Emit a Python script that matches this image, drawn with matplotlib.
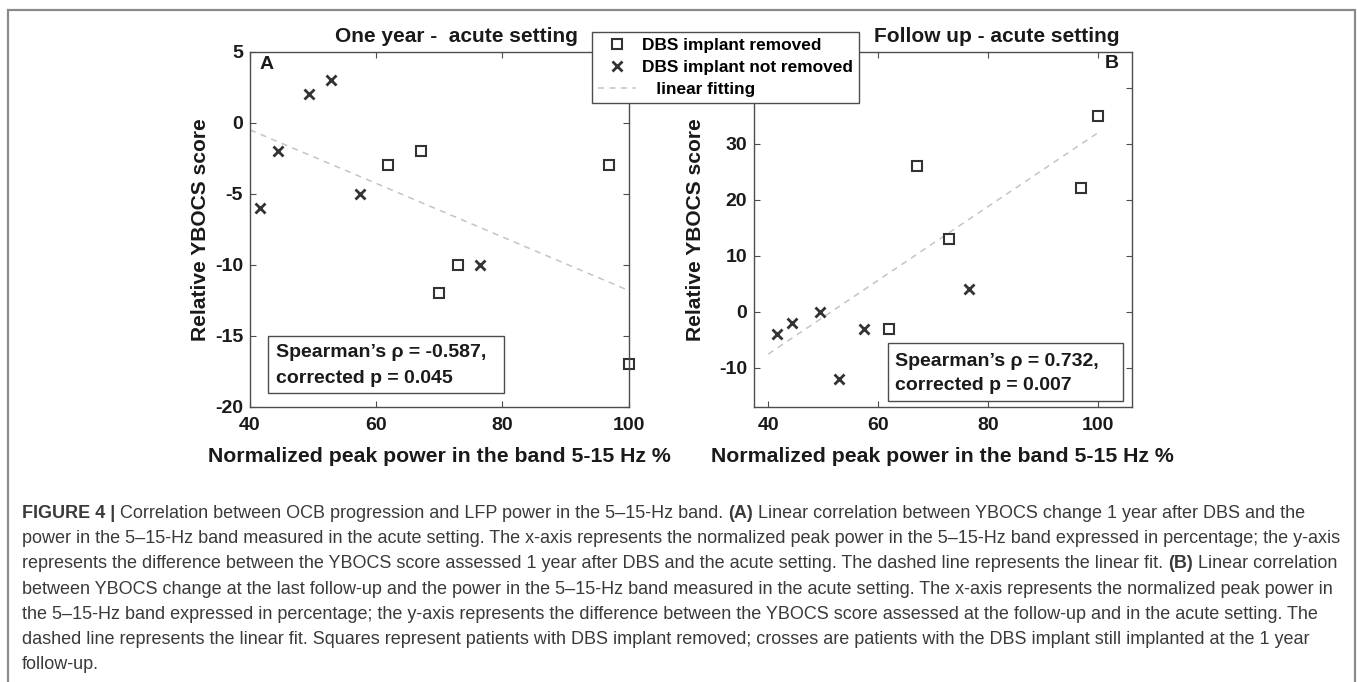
import matplotlib
matplotlib.use("Agg")
import matplotlib.pyplot as plt
from matplotlib.patches import Rectangle

plt.rcParams['font.family'] = ['Liberation Sans', 'DejaVu Sans']
plt.rcParams['axes.unicode_minus'] = False

# data
removed_x_a = [61.9, 67.1, 69.9, 72.9, 96.9, 100]
removed_y_a = [-3, -2, -12, -10, -3, -17]
kept_x_a = [41.6, 44.4, 49.4, 52.9, 57.5, 76.5]
kept_y_a = [-6, -2, 2, 3, -5, -10]

removed_x_b = [61.9, 67.1, 72.9, 96.9, 100]
removed_y_b = [-3, 26, 13, 22, 35]
kept_x_b = [41.6, 44.4, 49.4, 52.9, 57.5, 76.5]
kept_y_b = [-4, -2, 0, -12, -3, 4]

# fitted lines (end points as drawn in the figure)
fit_x = [40, 100]
fit_y_a = [-0.5, -11.8]
fit_y_b = [-7.55, 31.9]

stats_a = ["Spearman\u2019s \u03c1 = -0.587,", "corrected p = 0.045"]
stats_b = ["Spearman\u2019s \u03c1 = 0.732,", "corrected p = 0.007"]

xticks = [40, 60, 80, 100]
yticks_a = [-20, -15, -10, -5, 0, 5]
yticks_b = [-10, 0, 10, 20, 30, 40]
# the 40 label of panel B sits under the legend box
yticklabels_b = ["-10", "0", "10", "20", "30", ""]

xlabel = "Normalized peak power in the band 5-15 Hz %"
ylabel = "Relative YBOCS score"

caption = [
    [("FIGURE 4 |", True), ("Correlation between OCB progression and LFP power in the 5\u201315-Hz band.", False),
     ("(A)", True), ("Linear correlation between YBOCS change 1 year after DBS and the", False)],
    [("power in the 5\u201315-Hz band measured in the acute setting. The x-axis represents the normalized peak power in the 5\u201315-Hz band expressed in percentage; the y-axis", False)],
    [("represents the difference between the YBOCS score assessed 1 year after DBS and the acute setting. The dashed line represents the linear fit.", False),
     ("(B)", True), ("Linear correlation", False)],
    [("between YBOCS change at the last follow-up and the power in the 5\u201315-Hz band measured in the acute setting. The x-axis represents the normalized peak power in", False)],
    [("the 5\u201315-Hz band expressed in percentage; the y-axis represents the difference between the YBOCS score assessed at the follow-up and in the acute setting. The", False)],
    [("dashed line represents the linear fit. Squares represent patients with DBS implant removed; crosses are patients with the DBS implant still implanted at the 1 year", False)],
    [("follow-up.", False)],
]

W, H = 1357, 682
ink = '#333333'
dark = '#1a1a1a'
axcol = '#4d4d4d'
fitcol = '#c4c4c4'

fig = plt.figure(figsize=(W / 100, H / 100), dpi=100)


def fx(px):
    return px / W


def fy(py):
    return 1 - py / H


axA = fig.add_axes([fx(250), fy(407), 378.6 / W, 355.3 / H])
axB = fig.add_axes([fx(754), fy(407), 377.7 / W, 355.3 / H])


def style(ax):
    for s in ax.spines.values():
        s.set_color(axcol)
        s.set_linewidth(1.0)
    ax.tick_params(direction='in', length=4, width=0.8, color=axcol,
                   top=True, right=True, labelsize=14, labelcolor=dark)
    ax.tick_params(axis='x', pad=7.5)
    ax.tick_params(axis='y', pad=5)
    for lab in ax.get_xticklabels() + ax.get_yticklabels():
        lab.set_fontweight('bold')


def draw(ax, rx, ry, kx, ky, fit_y):
    sq, = ax.plot(rx, ry, 's', ms=6.8, mfc='none', mec=ink, mew=1.5, ls='none', clip_on=False)
    cr, = ax.plot(kx, ky, 'x', ms=6.5, mec=ink, mew=2, ls='none', clip_on=False)
    ln, = ax.plot(fit_x, fit_y, ls=(0, (4, 3.5)), color=fitcol, lw=1.1, zorder=1)
    return sq, cr, ln


sq, cr, ln = draw(axA, removed_x_a, removed_y_a, kept_x_a, kept_y_a, fit_y_a)
draw(axB, removed_x_b, removed_y_b, kept_x_b, kept_y_b, fit_y_b)

axA.set_xlim(40, 100)
axA.set_ylim(-20, 5)
axA.set_xticks(xticks)
axA.set_yticks(yticks_a)

axB.set_xlim(37.4, 106.2)
axB.set_ylim(-17, 46.4)
axB.set_xticks(xticks)
axB.set_yticks(yticks_b, yticklabels_b)

style(axA)
style(axB)

for ax, ylx in ((axA, -0.132), (axB, -0.156)):
    ax.set_xlabel(xlabel, fontsize=15.3, fontweight='bold', color=dark, va='center')
    ax.xaxis.set_label_coords(0.5, -49 / 355.3)
    ax.set_ylabel(ylabel, fontsize=15.1, fontweight='bold', color=dark, va='center')
    ax.yaxis.set_label_coords(ylx, 0.5)

# panel letters
axA.text(0.045, 0.963, "A", transform=axA.transAxes, fontsize=14, fontweight='bold',
         ha='center', va='center', color=dark)
axB.text(0.948, 0.968, "B", transform=axB.transAxes, fontsize=14, fontweight='bold',
         ha='center', va='center', color=dark)

# statistics boxes
axA.add_patch(Rectangle((0.0475, 0.0394), 0.6245, 0.1613, transform=axA.transAxes,
                        fill=False, ec=axcol, lw=1.0))
axA.text(0.0674, 0.152, stats_a[0], transform=axA.transAxes, fontsize=14, fontweight='bold', va='center', color=dark)
axA.text(0.0674, 0.0816, stats_a[1], transform=axA.transAxes, fontsize=14, fontweight='bold', va='center', color=dark)

axB.add_patch(Rectangle((0.3546, 0.0177), 0.6217, 0.1623, transform=axB.transAxes,
                        fill=False, ec=axcol, lw=1.0))
axB.text(0.3725, 0.128, stats_b[0], transform=axB.transAxes, fontsize=14, fontweight='bold', va='center', color=dark)
axB.text(0.3725, 0.060, stats_b[1], transform=axB.transAxes, fontsize=14, fontweight='bold', va='center', color=dark)

# titles
fig.text(fx(456.5), fy(42), "One year -  acute setting", fontsize=15, fontweight='bold',
         ha='center', va='baseline', color=dark)
fig.text(fx(997), fy(42), "Follow up - acute setting", fontsize=15, fontweight='bold',
         ha='center', va='baseline', color=dark)

# shared legend
leg = fig.legend([sq, cr, ln], ["DBS implant removed", "DBS implant not removed", "   linear fitting"],
                 loc='upper left', bbox_to_anchor=(fx(591.7), fy(31.7)), borderaxespad=0,
                 prop={'weight': 'bold', 'size': 12.4}, fancybox=False, framealpha=1,
                 edgecolor=axcol, borderpad=0.35, labelspacing=0.42, handlelength=2.2,
                 handletextpad=0.35)
leg.get_frame().set_linewidth(1.0)

# outer frame
fig.patches.append(Rectangle((fx(8.3), fy(700)), fx(1355.3) - fx(8.3), fy(10) - fy(700),
                             transform=fig.transFigure, fill=False, ec='#8a8a8a', lw=1.6))

# caption, segments placed one after another on a shared baseline
cap_size = 13.0
renderer = fig.canvas.get_renderer()
space_px = 0.278 * cap_size * 100 / 72
for i, line in enumerate(caption):
    y = fy(518.3 + 25.1 * i)
    x = 22
    for seg, bold in line:
        t = fig.text(fx(x), y, seg, fontsize=cap_size, color='#3a3a3a',
                     fontweight='bold' if bold else 'normal', va='baseline', ha='left')
        bb = t.get_window_extent(renderer)
        x = bb.x1 + space_px

fig.savefig("out.png", dpi=100)
